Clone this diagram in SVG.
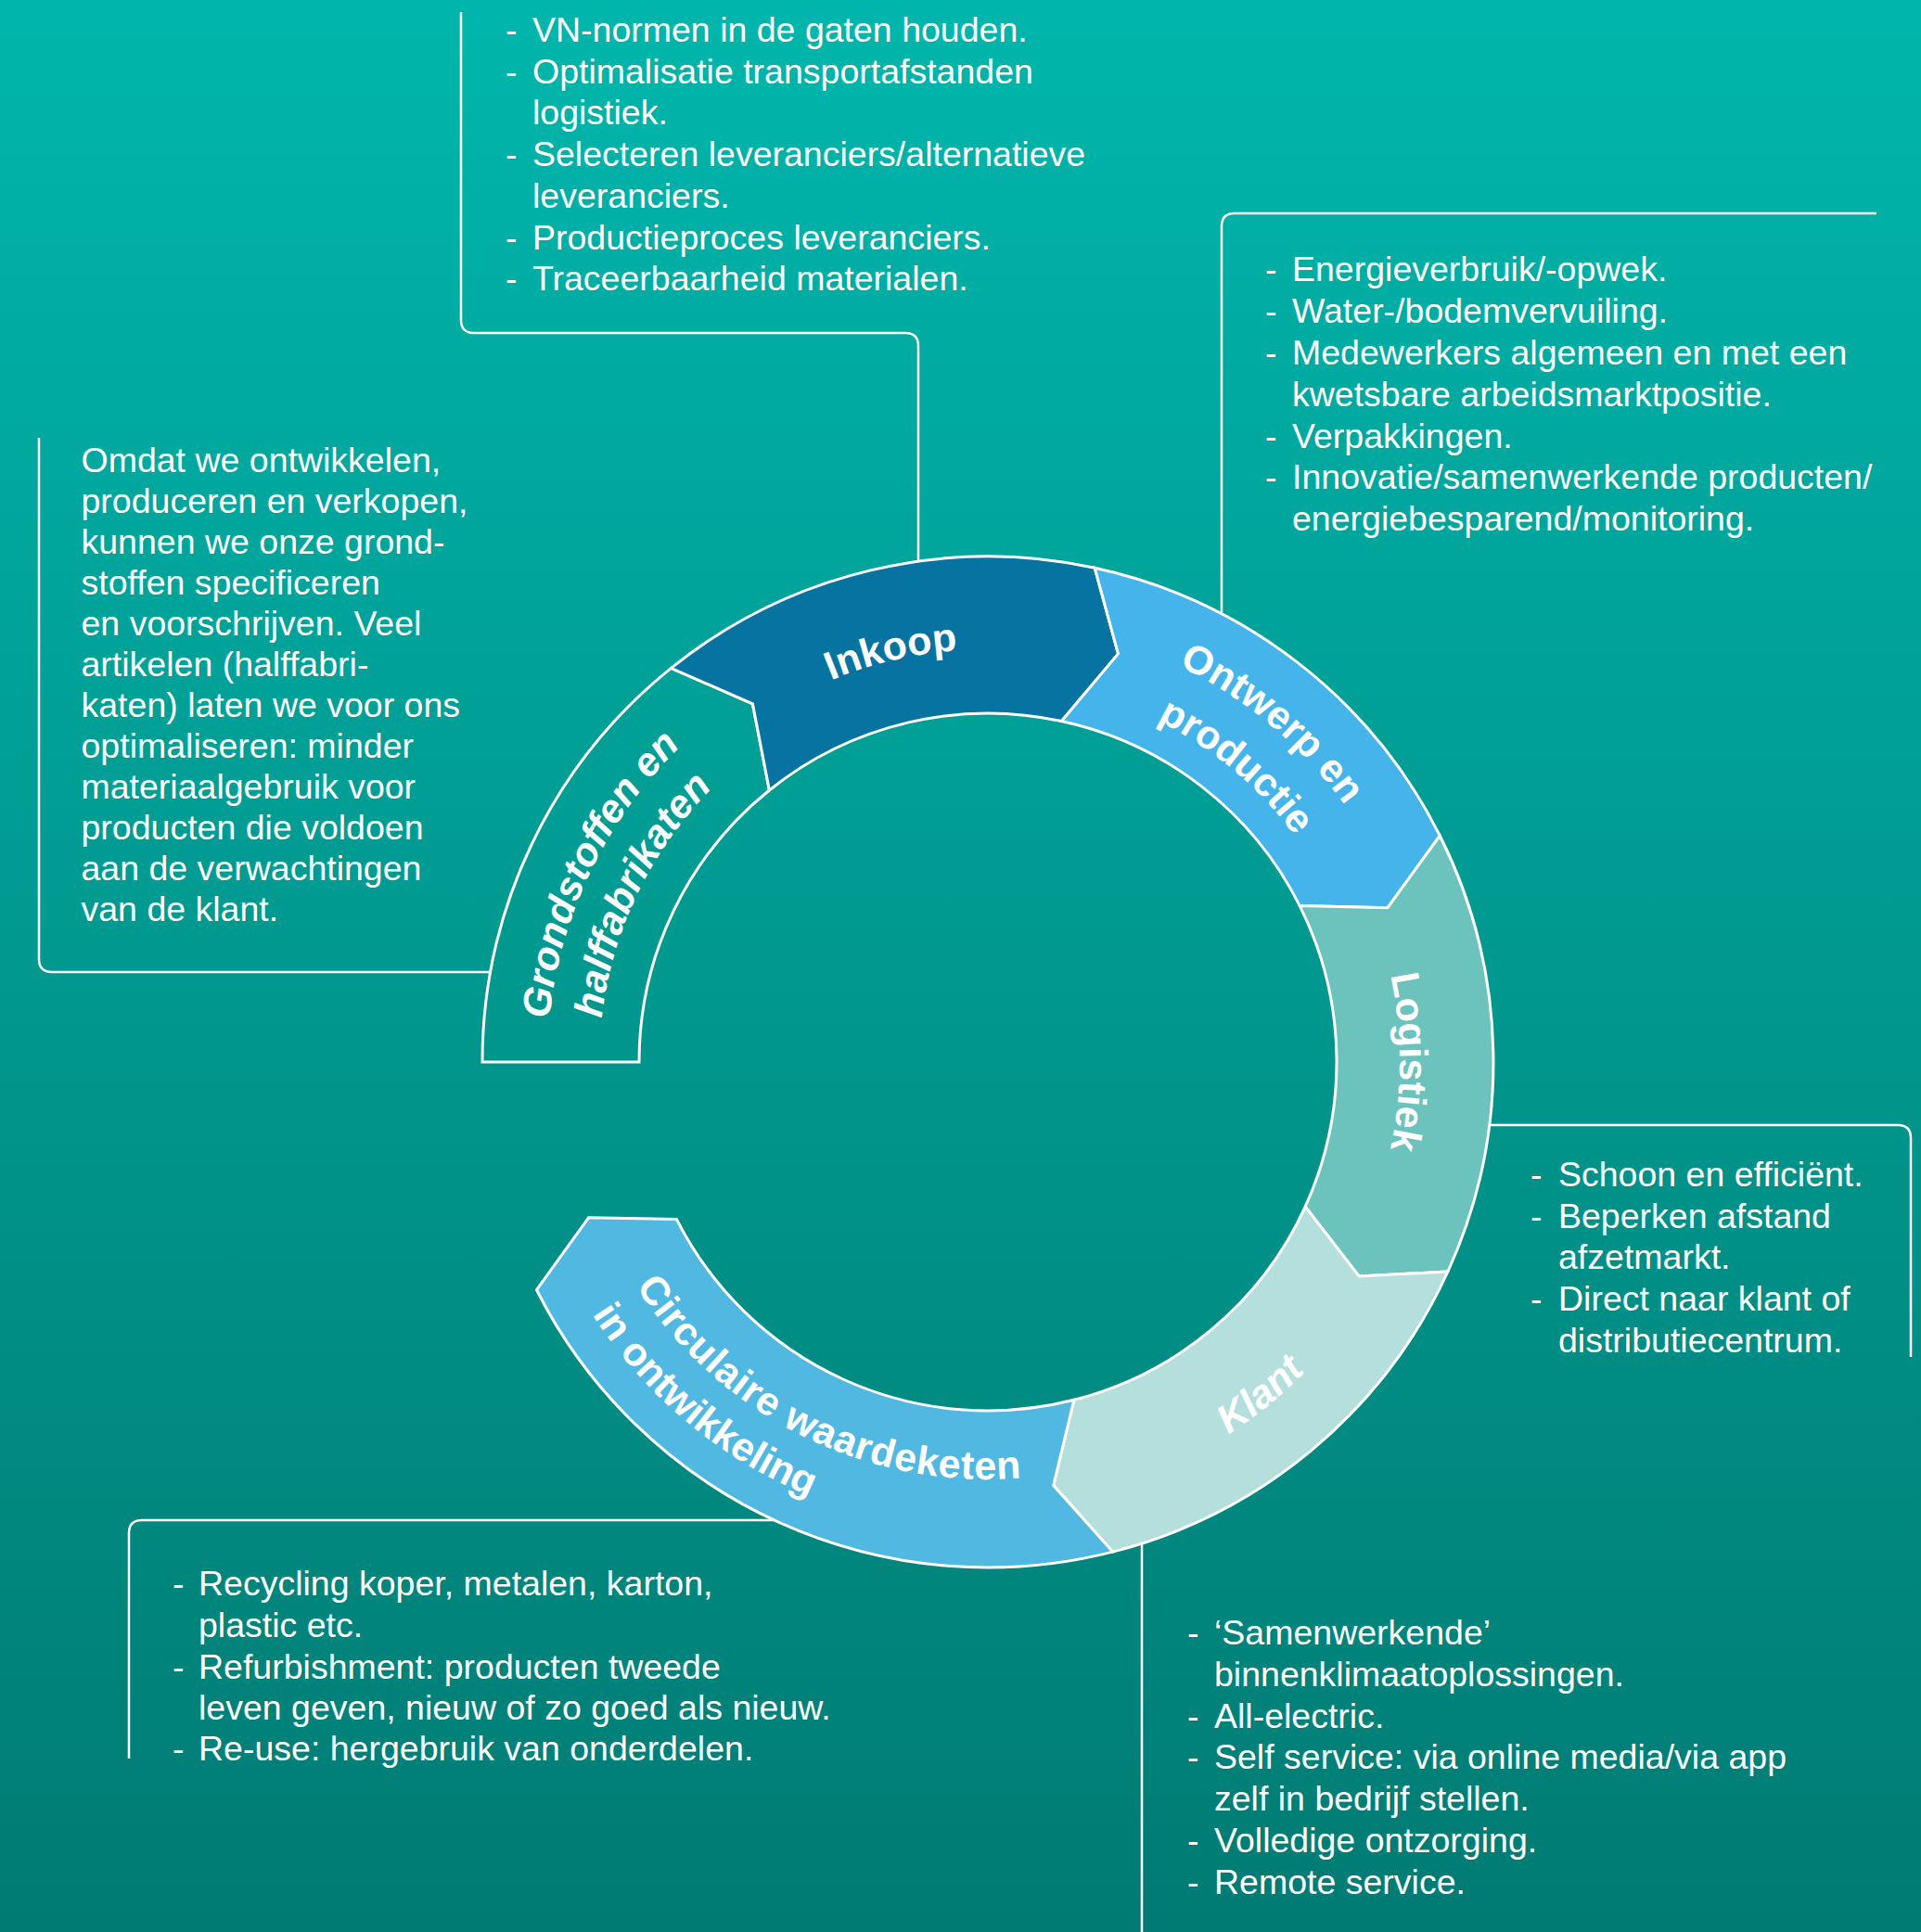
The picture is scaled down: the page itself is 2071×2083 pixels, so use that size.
<svg xmlns="http://www.w3.org/2000/svg" width="2071" height="2083" viewBox="0 0 2071 2083">
<defs>
<linearGradient id="bg" x1="0" y1="0" x2="0" y2="1">
<stop offset="0" stop-color="#00b6ac"/>
<stop offset="1" stop-color="#007b73"/>
</linearGradient>
<path id="cw445" d="M1065,1590 A445,445 0 1 1 1065,700 A445,445 0 1 1 1065,1590"/>
<path id="cw475" d="M1065,1620 A475,475 0 1 1 1065,670 A475,475 0 1 1 1065,1620"/>
<path id="cw474" d="M1065,1619 A474,474 0 1 1 1065,671 A474,474 0 1 1 1065,1619"/>
<path id="cw411" d="M1065,1556 A411,411 0 1 1 1065,734 A411,411 0 1 1 1065,1556"/>
<path id="cw419" d="M1065,1564 A419,419 0 1 1 1065,726 A419,419 0 1 1 1065,1564"/>
<path id="cw444" d="M1065,1589 A444,444 0 1 1 1065,701 A444,444 0 1 1 1065,1589"/>
<path id="ccw478" d="M1065,667 A478,478 0 1 0 1065,1623 A478,478 0 1 0 1065,667"/>
<path id="ccw450" d="M1065,695 A450,450 0 1 0 1065,1595 A450,450 0 1 0 1065,695"/>
<path id="ccw506" d="M1065,639 A506,506 0 1 0 1065,1651 A506,506 0 1 0 1065,639"/>
</defs>
<style>
.seg{stroke:#ffffff;stroke-width:3;stroke-linejoin:miter}
.lbl{font-family:"Liberation Sans",Arial,sans-serif;font-weight:bold;font-size:43px;fill:#ffffff}
.it{font-style:italic}
.t{font-family:"Liberation Sans",Arial,sans-serif;font-size:37.5px;fill:#ffffff}
.con{fill:none;stroke:#ffffff;stroke-width:2.5}
</style>
<rect x="0" y="0" width="2071" height="2083" fill="url(#bg)"/>

<g id="connectors">
<path class="con" d="M497,13 V345 Q497,359 511,359 H976 Q990,359 990,373 V606"/>
<path class="con" d="M2023,230 H1331 Q1317,230 1317,244 V662"/>
<path class="con" d="M42,472 V1034 Q42,1048 56,1048 H530"/>
<path class="con" d="M1605,1213 H2046 Q2060,1213 2060,1227 V1463"/>
<path class="con" d="M139,1896 V1653 Q139,1639 153,1639 H836"/>
<path class="con" d="M1231,1663 V2083"/>
</g>

<g id="node-grondstoffen">
<path class="seg" fill="none" d="M520,1145 A545,545 0 0 1 723.5,720.3 L811.4,758.9 L829.4,852 A376,376 0 0 0 689,1145 Z"/>
<text class="lbl it" text-anchor="middle"><textPath href="#cw475" startOffset="32.14%">Grondstoffen en</textPath></text>
<text class="lbl it" text-anchor="middle"><textPath href="#cw419" startOffset="32.14%">halffabrikaten</textPath></text>
</g>

<g id="node-inkoop">
<path class="seg" fill="#0673a0" d="M723.5,720.3 A545,545 0 0 1 1180.2,612.3 L1205.5,704.9 L1144.4,777.5 A376,376 0 0 0 829.4,852 L811.4,758.9 Z"/>
<text class="lbl" text-anchor="middle"><textPath href="#cw445" startOffset="46.31%">Inkoop</textPath></text>
</g>

<g id="node-ontwerp">
<path class="seg" fill="#44b4ea" d="M1180.2,612.3 A545,545 0 0 1 1552.3,901 L1496,978.7 L1401.2,976.6 A376,376 0 0 0 1144.4,777.5 L1205.5,704.9 Z"/>
<text class="lbl" text-anchor="middle"><textPath href="#cw474" startOffset="61.11%">Ontwerp en</textPath></text>
<text class="lbl" text-anchor="middle"><textPath href="#cw411" startOffset="61.11%">productie</textPath></text>
</g>

<g id="node-logistiek">
<path class="seg" fill="#6cc3bd" d="M1552.3,901 A545,545 0 0 1 1560.9,1371 L1465.1,1376 L1407.2,1300.9 A376,376 0 0 0 1401.2,976.6 L1496,978.7 Z"/>
<text class="lbl" text-anchor="middle"><textPath href="#cw444" startOffset="75%">Logistiek</textPath></text>
</g>

<g id="node-klant">
<path class="seg" fill="#b4dfdd" d="M1560.9,1371 A545,545 0 0 1 1199.6,1673.1 L1135.7,1601.5 L1157.9,1509.3 A376,376 0 0 0 1407.2,1300.9 L1465.1,1376 Z"/>
<text class="lbl it" text-anchor="middle"><textPath href="#ccw478" startOffset="60.92%">Klant</textPath></text>
</g>

<g id="node-circulaire">
<path class="seg" fill="#50b8e1" d="M1199.6,1673.1 A545,545 0 0 1 578.5,1390.7 L634.6,1312.8 L729.4,1314.5 A376,376 0 0 0 1157.9,1509.3 L1135.7,1601.5 Z"/>
<text class="lbl" letter-spacing="0.8"><textPath href="#ccw450" startOffset="34.03%">Circulaire waardeketen</textPath></text>
<text class="lbl"><textPath href="#ccw506" startOffset="34.03%">in ontwikkeling</textPath></text>
</g>

<g id="note-inkoop" class="t">
<text x="545" y="45">-</text><text x="574" y="45">VN-normen in de gaten houden.</text>
<text x="545" y="89.7">-</text><text x="574" y="89.7">Optimalisatie transportafstanden</text>
<text x="574" y="134.4">logistiek.</text>
<text x="545" y="179.1">-</text><text x="574" y="179.1">Selecteren leveranciers/alternatieve</text>
<text x="574" y="223.8">leveranciers.</text>
<text x="545" y="268.5">-</text><text x="574" y="268.5">Productieproces leveranciers.</text>
<text x="545" y="313.2">-</text><text x="574" y="313.2">Traceerbaarheid materialen.</text>
</g>

<g id="note-ontwerp" class="t">
<text x="1364" y="303">-</text><text x="1393" y="303">Energieverbruik/-opwek.</text>
<text x="1364" y="348">-</text><text x="1393" y="348">Water-/bodemvervuiling.</text>
<text x="1364" y="393">-</text><text x="1393" y="393">Medewerkers algemeen en met een</text>
<text x="1393" y="438">kwetsbare arbeidsmarktpositie.</text>
<text x="1364" y="483">-</text><text x="1393" y="483">Verpakkingen.</text>
<text x="1364" y="527">-</text><text x="1393" y="527">Innovatie/samenwerkende producten/</text>
<text x="1393" y="572">energiebesparend/monitoring.</text>
</g>

<g id="note-grondstoffen" class="t">
<text x="87.5" y="509">Omdat we ontwikkelen,</text>
<text x="87.5" y="553">produceren en verkopen,</text>
<text x="87.5" y="597">kunnen we onze grond-</text>
<text x="87.5" y="641">stoffen specificeren</text>
<text x="87.5" y="685">en voorschrijven. Veel</text>
<text x="87.5" y="729">artikelen (halffabri-</text>
<text x="87.5" y="773">katen) laten we voor ons</text>
<text x="87.5" y="817">optimaliseren: minder</text>
<text x="87.5" y="861">materiaalgebruik voor</text>
<text x="87.5" y="905">producten die voldoen</text>
<text x="87.5" y="949">aan de verwachtingen</text>
<text x="87.5" y="993">van de klant.</text>
</g>

<g id="note-logistiek" class="t">
<text x="1650" y="1279">-</text><text x="1680" y="1279">Schoon en efficiënt.</text>
<text x="1650" y="1324">-</text><text x="1680" y="1324">Beperken afstand</text>
<text x="1680" y="1368">afzetmarkt.</text>
<text x="1650" y="1413">-</text><text x="1680" y="1413">Direct naar klant of</text>
<text x="1680" y="1458">distributiecentrum.</text>
</g>

<g id="note-circulaire" class="t">
<text x="186" y="1720">-</text><text x="214" y="1720">Recycling koper, metalen, karton,</text>
<text x="214" y="1765">plastic etc.</text>
<text x="186" y="1810">-</text><text x="214" y="1810">Refurbishment: producten tweede</text>
<text x="214" y="1854">leven geven, nieuw of zo goed als nieuw.</text>
<text x="186" y="1898">-</text><text x="214" y="1898">Re-use: hergebruik van onderdelen.</text>
</g>

<g id="note-klant" class="t">
<text x="1280" y="1773">-</text><text x="1309" y="1773">‘Samenwerkende’</text>
<text x="1309" y="1818">binnenklimaatoplossingen.</text>
<text x="1280" y="1863">-</text><text x="1309" y="1863">All-electric.</text>
<text x="1280" y="1907">-</text><text x="1309" y="1907">Self service: via online media/via app</text>
<text x="1309" y="1952">zelf in bedrijf stellen.</text>
<text x="1280" y="1997">-</text><text x="1309" y="1997">Volledige ontzorging.</text>
<text x="1280" y="2042">-</text><text x="1309" y="2042">Remote service.</text>
</g>
</svg>
